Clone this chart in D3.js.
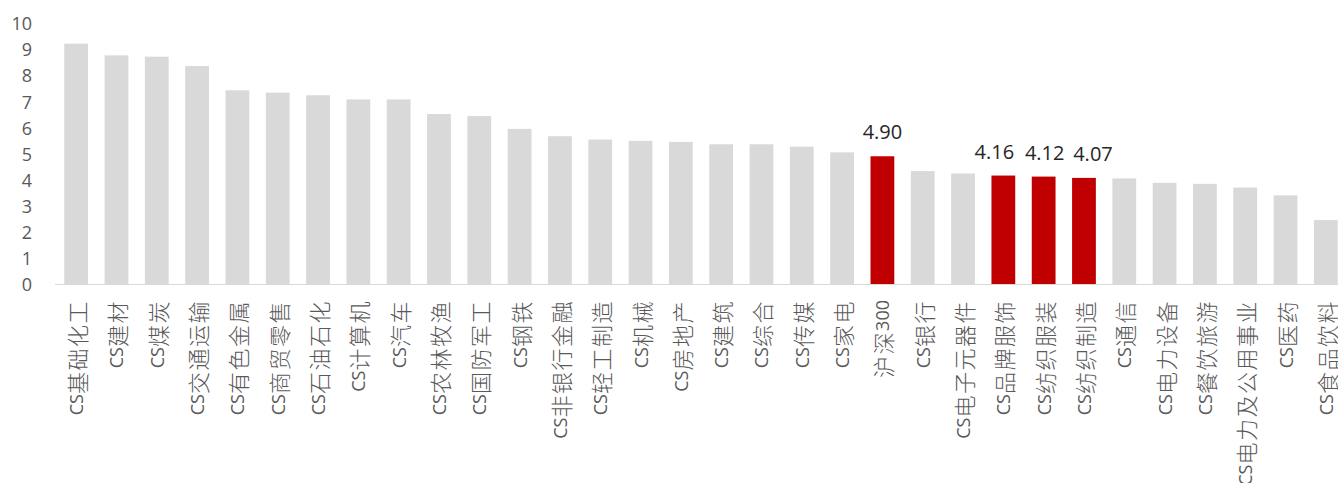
<!DOCTYPE html>
<html>
<head>
<meta charset="utf-8">
<script src="https://cdn.jsdelivr.net/npm/d3@7"></script>
<style>
  html, body { margin: 0; padding: 0; background: #fff; }
  svg { display: block; }
  .tick-label { font-family: "Open Sans", "Noto Sans", sans-serif; font-size: 18px; fill: #595959; }
  .cat-label { font-family: "Noto Sans CJK SC", "Noto Sans", sans-serif; font-size: 22px; font-weight: 300; fill: #595959; }
  .cat-label .latin { font-family: "Open Sans", "Noto Sans", sans-serif; font-size: 18px; font-weight: 400; }
  .value-label { font-family: "Open Sans", "Noto Sans", sans-serif; font-size: 20px; fill: #262626; }
</style>
</head>
<body>
<svg id="chart" width="1338" height="483"></svg>
<script>
// Industry index readings, sorted high to low
const categories = [
  "CS基础化工", "CS建材", "CS煤炭", "CS交通运输", "CS有色金属", "CS商贸零售",
  "CS石油石化", "CS计算机", "CS汽车", "CS农林牧渔", "CS国防军工", "CS钢铁",
  "CS非银行金融", "CS轻工制造", "CS机械", "CS房地产", "CS建筑", "CS综合",
  "CS传媒", "CS家电", "沪深300", "CS银行", "CS电子元器件", "CS品牌服饰",
  "CS纺织服装", "CS纺织制造", "CS通信", "CS电力设备", "CS餐饮旅游",
  "CS电力及公用事业", "CS医药", "CS食品饮料"
];
const values = [
  9.22, 8.77, 8.72, 8.36, 7.43, 7.34,
  7.24, 7.08, 7.08, 6.52, 6.44, 5.95,
  5.67, 5.54, 5.49, 5.45, 5.36, 5.36,
  5.27, 5.05, 4.90, 4.33, 4.24, 4.16,
  4.12, 4.07, 4.05, 3.88, 3.84,
  3.70, 3.40, 2.45
];
// Highlighted categories carry a value label
const highlighted = ["沪深300", "CS品牌服饰", "CS纺织服装", "CS纺织制造"];
const yTicks = [0, 1, 2, 3, 4, 5, 6, 7, 8, 9, 10];

const data = categories.map((c, i) => ({ name: c, value: values[i] }));

const svg = d3.select("#chart");

const x = d3.scaleBand()
  .domain(categories)
  .range([56, 1346])
  .paddingInner(0.41)
  .paddingOuter(0.205);

const y = d3.scaleLinear()
  .domain([0, 10])
  .range([284, 23.3]);

// Y axis tick labels (no axis line)
svg.append("g")
  .selectAll("text")
  .data(yTicks)
  .join("text")
  .attr("class", "tick-label")
  .attr("x", 32)
  .attr("y", d => y(d))
  .attr("text-anchor", "end")
  .attr("dominant-baseline", "central")
  .text(d => d);

// Bars
svg.append("g")
  .selectAll("rect")
  .data(data)
  .join("rect")
  .attr("x", d => x(d.name))
  .attr("y", d => y(d.value))
  .attr("width", x.bandwidth())
  .attr("height", d => y(0) - y(d.value))
  .attr("fill", d => highlighted.includes(d.name) ? "#c00000" : "#d9d9d9");

// Category baseline
svg.append("line")
  .attr("x1", 55)
  .attr("x2", 1338)
  .attr("y1", y(0) + 0.5)
  .attr("y2", y(0) + 0.5)
  .attr("stroke", "#d9d9d9")
  .attr("stroke-width", 1.2);

// Value labels, nudged sideways where neighbours would collide
const labelNudge = { "CS品牌服饰": -9, "CS纺织服装": 1, "CS纺织制造": 9 };
svg.append("g")
  .selectAll("text")
  .data(data.filter(d => highlighted.includes(d.name)))
  .join("text")
  .attr("class", "value-label")
  .attr("x", d => x(d.name) + x.bandwidth() / 2 + (labelNudge[d.name] || 0))
  .attr("y", d => y(d.value) - 17)
  .attr("text-anchor", "middle")
  .text(d => d.value.toFixed(2));

// Rotated category labels, Latin runs set in a narrower size
const catG = svg.append("g");
data.forEach(d => {
  const t = catG.append("text")
    .attr("class", "cat-label")
    .attr("transform", `translate(${x(d.name) + x.bandwidth() / 2},300) rotate(-90)`)
    .attr("text-anchor", "end")
    .attr("dominant-baseline", "central");
  const runs = d.name.match(/[A-Za-z0-9]+|[^A-Za-z0-9]+/g);
  runs.forEach(r => {
    const latin = /^[A-Za-z0-9]+$/.test(r);
    t.append("tspan")
      .attr("class", latin ? "latin" : null)
      .attr("letter-spacing", latin ? 0 : 1.5)
      .text(r);
  });
});
</script>
</body>
</html>
